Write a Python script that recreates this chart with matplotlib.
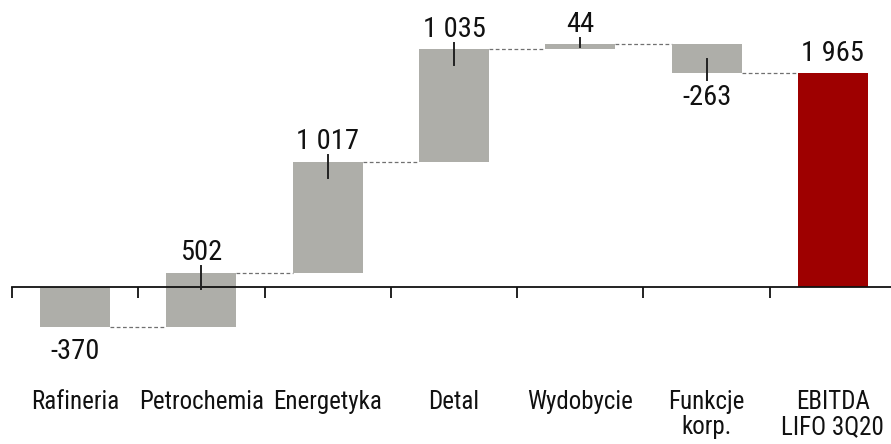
import matplotlib
matplotlib.use("Agg")
import matplotlib.pyplot as plt
from matplotlib import font_manager as fm

categories = ["Rafineria", "Petrochemia", "Energetyka", "Detal", "Wydobycie", "Funkcje\nkorp.", "EBITDA\nLIFO 3Q20"]
values = [-370, 502, 1017, 1035, 44, -263, 1965]
is_total = [False, False, False, False, False, False, True]
has_marker = [False, True, True, True, True, True, False]

names = {f.name for f in fm.fontManager.ttflist}
fam = "Roboto Condensed" if "Roboto Condensed" in names else "Liberation Sans"
plt.rcParams["font.family"] = [fam, "DejaVu Sans"]

bar_color = "#aeaea9"
total_color = "#9e0000"

W, H = 891, 444
fig = plt.figure(figsize=(W / 100, H / 100), dpi=100)
ax = fig.add_axes([12 / W, 0, 884 / W, 1])

x = list(range(len(categories)))
bottoms, heights, ends = [], [], []
cum = 0
for v, t in zip(values, is_total):
    if t:
        bottoms.append(0)
        heights.append(v)
        ends.append(v)
        cum = v
    else:
        bottoms.append(cum)
        heights.append(v)
        cum += v
        ends.append(cum)

colors = [total_color if t else bar_color for t in is_total]
bw = 0.555
ax.bar(x, heights, bottom=bottoms, width=bw, color=colors, edgecolor="none", zorder=2)

# connectors
for i in range(len(x) - 1):
    ax.plot([x[i] + bw / 2, x[i + 1] - bw / 2], [ends[i], ends[i]],
            color="#707070", lw=0.9, ls=(0, (3, 2)), zorder=1)

# small marker lines
for i, v in enumerate(values):
    if has_marker[i]:
        e = ends[i]
        sgn = 1 if v > 0 else -1
        inward = min(150, abs(v) * 0.5)
        ax.plot([x[i], x[i]], [e + sgn * 60, e - sgn * inward], color="#222222", lw=1.4, zorder=3)

def fmt(v):
    s = f"{abs(v):,}".replace(",", " ")
    return ("-" if v < 0 else "") + s

for i, v in enumerate(values):
    e = ends[i]
    if v >= 0:
        ax.annotate(fmt(v), (x[i], e), xytext=(0, 9), textcoords="offset points",
                    ha="center", va="baseline", fontsize=20.5, color="#111111")
    else:
        ax.annotate(fmt(v), (x[i], e), xytext=(0, -8), textcoords="offset points",
                    ha="center", va="top", fontsize=20.5, color="#111111")

scale = 214 / 1965
ax.set_ylim(-157 / scale, 287 / scale)
ax.set_xlim(-0.5, len(x) - 0.5)

for s in ["top", "right", "left"]:
    ax.spines[s].set_visible(False)
ax.spines["bottom"].set_position(("data", 0))
ax.spines["bottom"].set_linewidth(1.3)
ax.spines["bottom"].set_color("#111111")
ax.set_yticks([])

ax.set_xticks(x)
ax.set_xticklabels(categories, fontsize=18, linespacing=1.05, color="#111111")
ax.tick_params(axis="x", which="major", length=0, pad=74)
ax.set_xticks([i - 0.5 for i in range(len(x) + 1)], minor=True)
ax.tick_params(axis="x", which="minor", length=8, width=1.3, color="#111111", direction="out")

fig.savefig("out.png", dpi=100)
